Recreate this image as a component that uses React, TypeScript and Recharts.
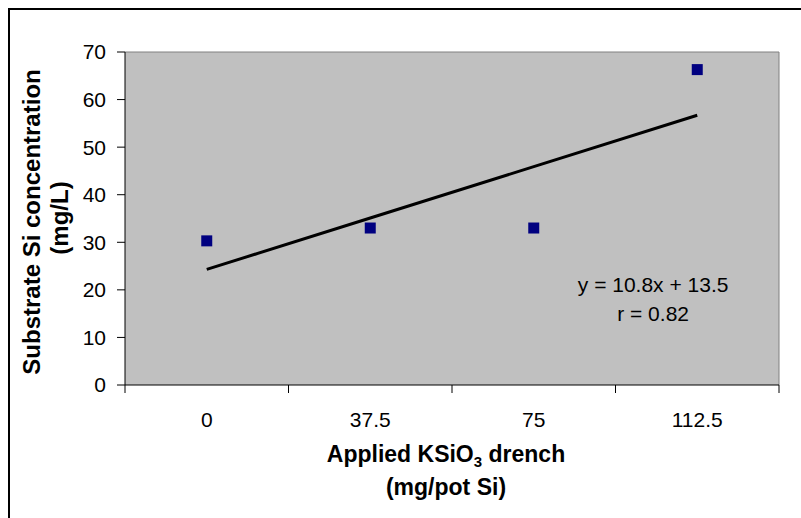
import React from "react";
import { ComposedChart, Line, XAxis, YAxis, CartesianGrid, ReferenceLine } from "recharts";

const categories = ["0", "37.5", "75", "112.5"];
const positions = [1, 2, 3, 4];
const siValues = [30.3, 33.0, 33.0, 66.3];
const trendValues = [24.3, 35.1, 45.9, 56.7];
const yTicks = [0, 10, 20, 30, 40, 50, 60, 70];
const xTicks = [0.5, 1, 1.5, 2, 2.5, 3, 3.5, 4, 4.5];
const equationText = "y = 10.8x + 13.5";
const rText = "r = 0.82";

const data = positions.map((p, i) => ({ x: p, si: siValues[i], trend: trendValues[i] }));

const FONT = "'Liberation Sans', Arial, sans-serif";

const XTick = (props: any) => {
  const { x, y, payload } = props;
  const v = payload.value;
  if (Math.abs(v - Math.round(v)) > 0.01) {
    return <line x1={x} y1={y} x2={x} y2={y + 8} stroke="#000" strokeWidth={1} />;
  }
  const idx = positions.indexOf(Math.round(v));
  return (
    <text x={x} y={y + 42} textAnchor="middle" fontFamily={FONT} fontSize={21} fill="#000">
      {categories[idx]}
    </text>
  );
};

const SquareDot = (props: any) => {
  const { cx, cy } = props;
  if (cx == null || cy == null) return null;
  return <rect x={cx - 5.5} y={cy - 5.5} width={11} height={11} fill="#000080" />;
};

const XTitle = (props: any) => {
  const { viewBox } = props;
  const cx = viewBox.x + viewBox.width / 2 - 6;
  const y0 = viewBox.y;
  return (
    <g>
      <text x={cx} y={y0 + 77} textAnchor="middle" fontFamily={FONT} fontSize={23} fontWeight="bold" fill="#000">
        Applied KSiO<tspan fontSize={15} dy={5}>3</tspan>
        <tspan dy={-5}> drench</tspan>
      </text>
      <text x={cx} y={y0 + 110} textAnchor="middle" fontFamily={FONT} fontSize={23} fontWeight="bold" fill="#000">
        (mg/pot Si)
      </text>
    </g>
  );
};

const YTitle = () => {
  const c1 = 222;
  const c2 = 218;
  return (
    <g>
      <text x={31} y={c1} transform={`rotate(-90 31 ${c1})`} textAnchor="middle" dominantBaseline="central" fontFamily={FONT} fontSize={24} fontWeight="bold" fill="#000">
        Substrate Si concentration
      </text>
      <text x={59} y={c2} transform={`rotate(-90 59 ${c2})`} textAnchor="middle" dominantBaseline="central" fontFamily={FONT} fontSize={24} fontWeight="bold" fill="#000">
        (mg/L)
      </text>
    </g>
  );
};

const EqLabel = (props: any) => {
  const { viewBox } = props;
  const x = viewBox.x;
  return (
    <g>
      <text x={x} y={292} textAnchor="middle" fontFamily={FONT} fontSize={21} fill="#000">{equationText}</text>
      <text x={x} y={321} textAnchor="middle" fontFamily={FONT} fontSize={21} fill="#000">{rText}</text>
    </g>
  );
};

export default function App() {
  return (
    <div style={{ position: "absolute", left: 0, top: 0, width: 801, height: 518, overflow: "hidden", background: "#fff" }}>
      <div style={{ position: "absolute", left: 8, top: 8, width: 900, height: 700, borderTop: "2px solid #000", borderLeft: "2px solid #000" }} />
      <div style={{ position: "absolute", left: 0, top: 0 }}>
        <ComposedChart width={801} height={518} data={data} margin={{ top: 52, right: 22, bottom: 33, left: 65 }}>
          <CartesianGrid fill="#C0C0C0" horizontal={false} vertical={false} />
          <XAxis
            dataKey="x"
            type="number"
            domain={[0.5, 4.5]}
            ticks={xTicks}
            interval={0}
            tickLine={false}
            tickSize={0}
            tickMargin={0}
            axisLine={{ stroke: "#000", strokeWidth: 1 }}
            tick={<XTick />}
            height={100}
            label={<XTitle />}
          />
          <YAxis
            type="number"
            domain={[0, 70]}
            ticks={yTicks}
            interval={0}
            width={60}
            tickSize={8}
            tickMargin={11}
            axisLine={{ stroke: "#000", strokeWidth: 1 }}
            tickLine={{ stroke: "#000", strokeWidth: 1 }}
            tick={{ fill: "#000", fontSize: 21, fontFamily: FONT }}
            label={<YTitle />}
          />
          <ReferenceLine y={70} stroke="#808080" strokeWidth={1} />
          <ReferenceLine x={4.5} stroke="#808080" strokeWidth={1} />
          <ReferenceLine x={3.73} stroke="none" label={<EqLabel />} />
          <Line dataKey="trend" type="linear" stroke="#000" strokeWidth={3} dot={false} isAnimationActive={false} />
          <Line dataKey="si" type="linear" stroke="none" dot={<SquareDot />} activeDot={false} isAnimationActive={false} />
        </ComposedChart>
      </div>
    </div>
  );
}
